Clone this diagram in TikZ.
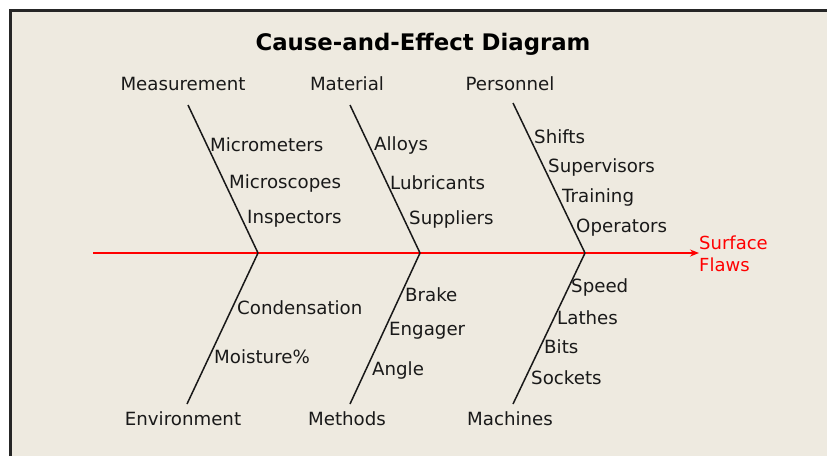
\documentclass[tikz,border=0pt]{standalone}
\usepackage{fontspec}
\setmainfont{DejaVu Sans}
\usetikzlibrary{arrows.meta}
\definecolor{bg}{RGB}{238,234,224}
\definecolor{spine}{RGB}{255,0,0}
\begin{document}
\begin{tikzpicture}[x=1pt,y=-1pt,
  lbl/.style={inner sep=0pt,font=\fontsize{18.2}{20}\selectfont,text=black!90},
  sub/.style={lbl,anchor=west},
  bone/.style={draw=black!90,line width=1.5pt},
  title/.style={inner sep=0pt,font=\fontsize{22.8}{25}\selectfont\bfseries}]
\useasboundingbox (0,0) rectangle (827,456);
\fill[white] (0,0) rectangle (827,456);
\fill[bg] (10,10) rectangle (827,456);
\draw[line width=3pt,black!85] (10,456) -- (10,10) -- (827,10);
\node[title] (title) at (423,44) {Cause-and-Effect Diagram};
% spine
\coordinate (tail) at (93,253);
\coordinate (j1) at (258,253);
\coordinate (j2) at (420,253);
\coordinate (j3) at (585,253);
\node[inner sep=0pt,anchor=west,align=left,text=spine,font=\fontsize{18}{22}\selectfont] (effect) at (699,254) {Surface\\Flaws};
\coordinate (head) at (699,253);
\draw[spine,line width=1.4pt,-{Stealth[length=9pt,width=7pt]}] (tail) -- (head);
% main categories
\node[lbl] (meas) at (183,84) {Measurement};
\node[lbl] (mat) at (347,84) {Material};
\node[lbl] (pers) at (510,84) {Personnel};
\node[lbl] (env) at (183,419) {Environment};
\node[lbl] (meth) at (347,419) {Methods};
\node[lbl] (mach) at (510,419) {Machines};
\coordinate (b1) at (188,105);
\coordinate (b2) at (350,105);
\coordinate (b3) at (513,103);
\coordinate (b4) at (187,404);
\coordinate (b5) at (350,404);
\coordinate (b6) at (513,404);
\draw[bone] (b1) -- (j1);
\draw[bone] (b2) -- (j2);
\draw[bone] (b3) -- (j3);
\draw[bone] (b4) -- (j1);
\draw[bone] (b5) -- (j2);
\draw[bone] (b6) -- (j3);
% sub causes
\node[sub] (s11) at (210,145) {Micrometers};
\node[sub] (s12) at (229,183) {Microscopes};
\node[sub] (s13) at (247,219) {Inspectors};
\node[sub] (s21) at (374,145) {Alloys};
\node[sub] (s22) at (390,183) {Lubricants};
\node[sub] (s23) at (409,219) {Suppliers};
\node[sub] (s31) at (534,137) {Shifts};
\node[sub] (s32) at (548,167) {Supervisors};
\node[sub] (s33) at (562,197) {Training};
\node[sub] (s34) at (576,228) {Operators};
\node[sub] (s41) at (237,308) {Condensation};
\node[sub] (s42) at (214,357) {Moisture\%};
\node[sub] (s51) at (405,295) {Brake};
\node[sub] (s52) at (389,331) {Engager};
\node[sub] (s53) at (372,370) {Angle};
\node[sub] (s61) at (571,287) {Speed};
\node[sub] (s62) at (557,318) {Lathes};
\node[sub] (s63) at (544,347) {Bits};
\node[sub] (s64) at (531,378) {Sockets};
\end{tikzpicture}
\end{document}
